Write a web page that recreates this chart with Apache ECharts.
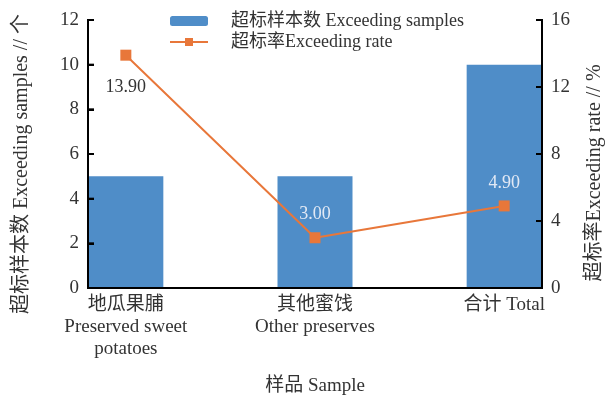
<!DOCTYPE html>
<html>
<head>
<meta charset="utf-8">
<script src="https://cdn.jsdelivr.net/npm/echarts@6/dist/echarts.min.js"></script>
<style>
  html, body { margin: 0; padding: 0; background: #ffffff; }
  #chart { width: 608px; height: 395px; background: #ffffff; }
</style>
</head>
<body>
<div id="chart"></div>
<script>
// Sample categories (bilingual, multi-line labels)
const categories = [
  '地瓜果脯\nPreserved sweet\npotatoes',
  '其他蜜饯\nOther preserves',
  '合计 Total'
];
// Number of samples exceeding the standard
const exceedingSamples = [5, 5, 10];
// Exceeding rate, %
const exceedingRate = [13.90, 3.00, 4.90];
// Left and right axis ranges
const leftAxisMax = 12, leftAxisStep = 2;
const rightAxisMax = 16, rightAxisStep = 4;

// Horizontal extent: half a bar of room around the first and last category
const X_MIN = -0.2;
const X_MAX = categories.length - 1 + 0.2;

const FONT = '"Liberation Serif", "Noto Sans CJK SC", serif';
const BLUE = '#4f8dc8';
const ORANGE = '#e8773a';
const TICK_LEN = 6;

// Label placement per point of the rate line
const rateLabelStyle = [
  { position: 'bottom', distance: 18, color: '#333333' },
  { position: 'top', distance: 9, color: '#e2e9f5' },
  { position: 'top', distance: 8, color: '#e2e9f5' }
];

// Axis frame (bottom, left, right lines with inward ticks), drawn through the axes' own scales
function renderFrame(params, api) {
  const o = api.coord([X_MIN, 0]);
  const r = api.coord([X_MAX, 0]);
  const t = api.coord([X_MIN, leftAxisMax]);
  const style = { stroke: '#000000', lineWidth: 2, fill: null };
  const seg = (x1, y1, x2, y2) => ({ type: 'line', shape: { x1, y1, x2, y2 }, style });
  const children = [
    seg(o[0] - 1, o[1], r[0] + 1, r[1]),
    seg(o[0], o[1], o[0], t[1] - 1),
    seg(r[0], r[1], r[0], t[1] - 1)
  ];
  for (let v = 0; v <= leftAxisMax; v += leftAxisStep) {
    const y = api.coord([X_MIN, v])[1];
    children.push(seg(o[0], y, o[0] + TICK_LEN, y));
  }
  for (let v = 0; v <= rightAxisMax; v += rightAxisStep) {
    const y = api.coord([X_MIN, v * leftAxisMax / rightAxisMax])[1];
    children.push(seg(r[0] - TICK_LEN, y, r[0], y));
  }
  return { type: 'group', children };
}

const chart = echarts.init(document.getElementById('chart'), null, { renderer: 'canvas' });

chart.setOption({
  animation: false,
  legend: {
    orient: 'vertical',
    left: 164,
    top: 7,
    itemWidth: 38,
    itemHeight: 10,
    itemGap: 3,
    textStyle: { fontFamily: FONT, fontSize: 18, color: '#333333', padding: [0, 0, 0, 18] },
    data: ['超标样本数 Exceeding samples', '超标率Exceeding rate']
  },
  // fixed plot rectangle; names and labels sit outside it
  grid: { left: 88, right: 66, top: 20, bottom: 107, containLabel: false, outerBoundsMode: 'none' },
  xAxis: {
    type: 'value',
    z: 5,
    min: X_MIN,
    max: X_MAX,
    name: '样品 Sample',
    nameLocation: 'middle',
    nameGap: 89,
    nameTextStyle: { fontFamily: FONT, fontSize: 19, color: '#333333' },
    axisLine: { show: true, onZero: false, lineStyle: { color: '#000000', width: 2 } },
    axisTick: { show: false },
    splitLine: { show: false },
    axisLabel: {
      customValues: categories.map((c, i) => i),
      formatter: v => categories[Math.round(v)],
      fontFamily: FONT,
      fontSize: 19,
      color: '#333333',
      lineHeight: 22,
      margin: 6
    }
  },
  yAxis: [
    {
      type: 'value',
      z: 5,
      min: 0,
      max: leftAxisMax,
      interval: leftAxisStep,
      name: '超标样本数 Exceeding samples // 个',
      nameLocation: 'middle',
      nameRotate: 90,
      nameGap: 56,
      nameTextStyle: { fontFamily: FONT, fontSize: 20, color: '#333333', padding: [0, 20, 0, 0] },
      axisLine: { show: true, onZero: false, lineStyle: { color: '#000000', width: 2 } },
      axisTick: { show: true, inside: true, length: TICK_LEN, lineStyle: { color: '#000000', width: 2 } },
      splitLine: { show: false },
      axisLabel: { fontFamily: FONT, fontSize: 19, color: '#333333', margin: 9 }
    },
    {
      type: 'value',
      z: 5,
      min: 0,
      max: rightAxisMax,
      interval: rightAxisStep,
      position: 'right',
      name: '超标率Exceeding rate // %',
      nameLocation: 'middle',
      nameRotate: 90,
      nameGap: 43,
      nameTextStyle: { fontFamily: FONT, fontSize: 20, color: '#333333', padding: [0, 38, 0, 0] },
      axisLine: { show: true, onZero: false, lineStyle: { color: '#000000', width: 2 } },
      axisTick: { show: true, inside: true, length: TICK_LEN, lineStyle: { color: '#000000', width: 2 } },
      splitLine: { show: false },
      axisLabel: { fontFamily: FONT, fontSize: 19, color: '#333333', margin: 9 }
    }
  ],
  series: [
    {
      name: '超标样本数 Exceeding samples',
      type: 'bar',
      yAxisIndex: 0,
      barWidth: 75,
      itemStyle: { color: BLUE },
      data: exceedingSamples.map((v, i) => [i, v])
    },
    {
      name: '超标率Exceeding rate',
      type: 'line',
      yAxisIndex: 1,
      z: 6,
      symbol: 'rect',
      symbolSize: 11,
      lineStyle: { color: ORANGE, width: 2 },
      itemStyle: { color: ORANGE },
      data: exceedingRate.map((v, i) => ({
        value: [i, v],
        label: {
          show: true,
          position: rateLabelStyle[i].position,
          distance: rateLabelStyle[i].distance,
          color: rateLabelStyle[i].color,
          fontFamily: FONT,
          fontSize: 18,
          formatter: p => p.value[1].toFixed(2)
        }
      }))
    },
    {
      name: 'frame',
      type: 'custom',
      yAxisIndex: 0,
      silent: true,
      clip: false,
      z: 7,
      data: [[0, 0]],
      renderItem: renderFrame
    }
  ]
});
</script>
</body>
</html>
